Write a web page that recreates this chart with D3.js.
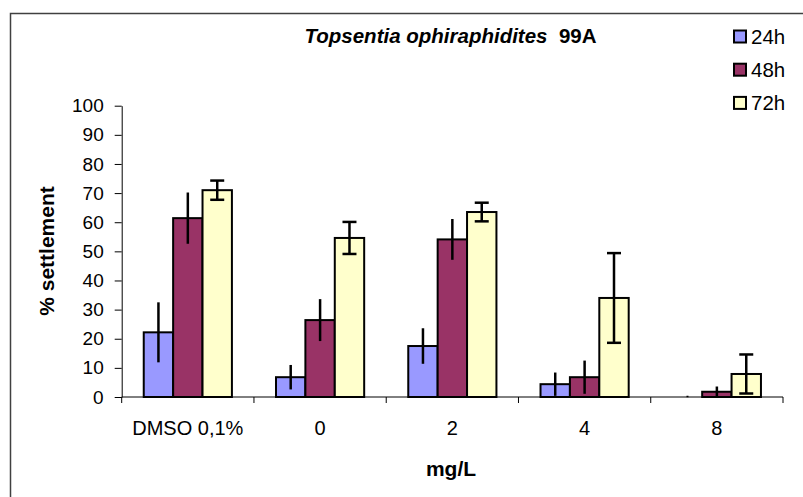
<!DOCTYPE html>
<html>
<head>
<meta charset="utf-8">
<script src="https://cdn.jsdelivr.net/npm/d3@7"></script>
<style>
  html, body { margin: 0; padding: 0; background: #fff; }
  svg { display: block; }
  text { font-family: "Liberation Sans", Arial, sans-serif; fill: #000; }
</style>
</head>
<body>
<svg id="chart" width="803" height="497"></svg>
<script>
const categories = ["DMSO 0,1%", "0", "2", "4", "8"];
const seriesNames = ["24h", "48h", "72h"];
const seriesColors = ["#9999FF", "#993366", "#FFFFCC"];
const values24 = [22.2, 6.8, 17.5, 4.4, 0];
const values48 = [61.4, 26.4, 54.1, 6.8, 1.8];
const values72 = [71.0, 54.6, 63.5, 34.0, 7.9];
const err24 = [10.3, 4.2, 6.1, 4.0, 0];
const err48 = [8.8, 7.2, 7.0, 5.7, 1.8];
const err72 = [3.3, 5.5, 3.2, 15.4, 6.7];
const yTicks = [0, 10, 20, 30, 40, 50, 60, 70, 80, 90, 100];

const seriesValues = [values24, values48, values72];
const seriesErr = [err24, err48, err72];

const svg = d3.select("#chart");
svg.append("rect").attr("width", 803).attr("height", 497).attr("fill", "#fff");

// outer chart border
svg.append("rect")
  .attr("x", 10.5).attr("y", 13.5)
  .attr("width", 820).attr("height", 520)
  .attr("fill", "none").attr("stroke", "#404040").attr("stroke-width", 1.5);

const pLeft = 121.7, pRight = 783, pTop = 105.7, pBottom = 397;

const x = d3.scaleBand().domain(categories).range([pLeft, pRight]).paddingInner(0).paddingOuter(0);
const xs = d3.scaleBand().domain(seriesNames)
  .range([x.bandwidth() / 6, x.bandwidth() * 5 / 6]).padding(0);
const y = d3.scaleLinear().domain([0, 100]).range([pBottom, pTop]);

// y axis
const yAxis = d3.axisLeft(y).tickValues(yTicks).tickSize(7).tickSizeOuter(0).tickPadding(11);
const gy = svg.append("g").attr("transform", `translate(${pLeft},0)`).call(yAxis);
gy.select(".domain").attr("stroke", "#000").attr("stroke-width", 1);
gy.selectAll(".tick line").attr("stroke", "#000");
gy.selectAll(".tick text").attr("font-size", 19).attr("font-family", "Liberation Sans, Arial, sans-serif").attr("fill", "#000");

// bars
const groups = svg.append("g");
seriesNames.forEach((s, si) => {
  groups.selectAll(null)
    .data(categories.map((c, i) => ({ c, v: seriesValues[si][i], e: seriesErr[si][i] })).filter(d => d.v > 0))
    .enter()
    .append("rect")
    .attr("x", d => x(d.c) + xs(s))
    .attr("y", d => y(d.v))
    .attr("width", xs.bandwidth())
    .attr("height", d => y(0) - y(d.v))
    .attr("fill", seriesColors[si])
    .attr("stroke", "#000")
    .attr("stroke-width", 2);
});

// tiny mark for zero value
categories.forEach((c, i) => {
  seriesNames.forEach((s, si) => {
    if (seriesValues[si][i] === 0) {
      svg.append("line")
        .attr("x1", x(c) + xs(s) + xs.bandwidth() / 2 - 1)
        .attr("x2", x(c) + xs(s) + xs.bandwidth() / 2 + 1)
        .attr("y1", y(0) - 0.5).attr("y2", y(0) - 0.5)
        .attr("stroke", "#000").attr("stroke-width", 1.5);
    }
  });
});

// error bars
seriesNames.forEach((s, si) => {
  categories.forEach((c, i) => {
    const v = seriesValues[si][i], e = seriesErr[si][i];
    if (e <= 0) return;
    const cx = x(c) + xs(s) + xs.bandwidth() / 2;
    const lo = Math.max(0, v - e), hi = v + e;
    svg.append("line")
      .attr("x1", cx).attr("x2", cx)
      .attr("y1", y(hi)).attr("y2", y(lo))
      .attr("stroke", "#000").attr("stroke-width", 2.5);
    if (si === 2) {
      [hi, lo].forEach(val => {
        svg.append("line")
          .attr("x1", cx - 7).attr("x2", cx + 7)
          .attr("y1", y(val)).attr("y2", y(val))
          .attr("stroke", "#000").attr("stroke-width", 2.5);
      });
    }
  });
});

// x axis
const xAxisLine = svg.append("g");
xAxisLine.append("line")
  .attr("x1", pLeft).attr("x2", pRight).attr("y1", pBottom).attr("y2", pBottom)
  .attr("stroke", "#000").attr("stroke-width", 1);
const boundaries = categories.map(c => x(c)).concat([pRight]);
xAxisLine.selectAll(null).data(boundaries).enter().append("line")
  .attr("x1", d => d).attr("x2", d => d)
  .attr("y1", pBottom).attr("y2", pBottom + 6)
  .attr("stroke", "#000").attr("stroke-width", 1);
xAxisLine.selectAll(null).data(categories).enter().append("text")
  .attr("x", d => x(d) + x.bandwidth() / 2)
  .attr("y", 435)
  .attr("text-anchor", "middle")
  .attr("font-size", 20)
  .text(d => d);

// axis titles
svg.append("text")
  .attr("transform", "translate(53.5,251) rotate(-90)")
  .attr("text-anchor", "middle")
  .attr("font-size", 21).attr("font-weight", "bold")
  .text("% settlement");
svg.append("text")
  .attr("x", 451).attr("y", 476)
  .attr("text-anchor", "middle")
  .attr("font-size", 21).attr("font-weight", "bold")
  .text("mg/L");

// title
const title = svg.append("text")
  .attr("x", 304.5).attr("y", 43)
  .attr("text-anchor", "start")
  .attr("font-size", 20.5).attr("font-weight", "bold");
title.append("tspan").attr("font-style", "italic").text("Topsentia ophiraphidites");
title.append("tspan").text("\u00a0 99A");

// legend
const legend = svg.append("g");
seriesNames.forEach((s, i) => {
  const ly = 36.5 + i * 33.2;
  legend.append("rect")
    .attr("x", 734).attr("y", ly - 6)
    .attr("width", 12).attr("height", 12)
    .attr("fill", seriesColors[i]).attr("stroke", "#000").attr("stroke-width", 2);
  legend.append("text")
    .attr("x", 751).attr("y", ly + 7.5)
    .attr("font-size", 20.5)
    .text(s);
});
</script>
</body>
</html>
